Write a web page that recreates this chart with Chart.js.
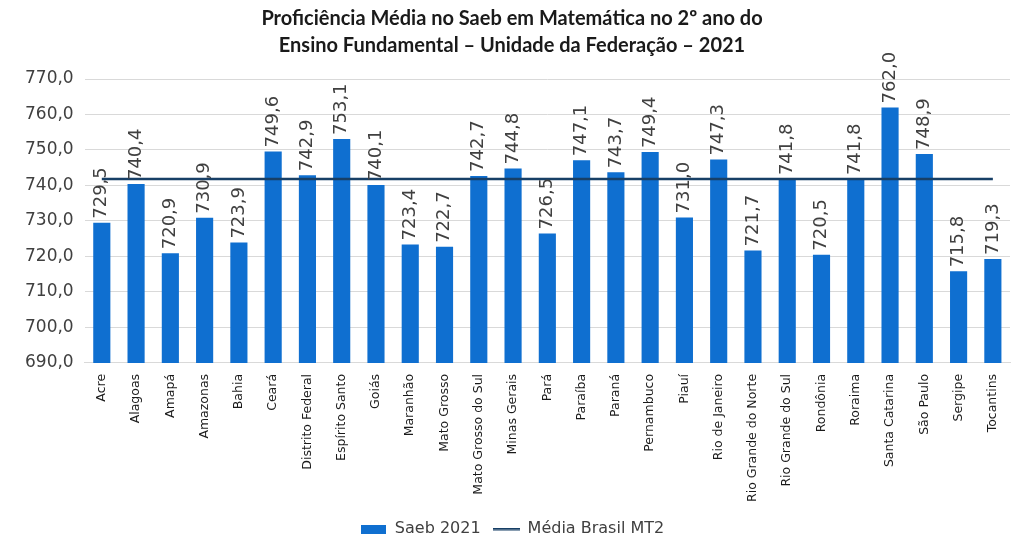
<!DOCTYPE html>
<html lang="pt-BR">
<head>
    <meta charset="UTF-8">
    <title>Proficiência Média no Saeb em Matemática - 2º ano EF - 2021</title>
    <script src="https://cdn.jsdelivr.net/npm/chart.js"></script>
    <style>
        html, body { margin: 0; padding: 0; background: #fff; }
        #wrap { width: 1024px; height: 539px; }
    </style>
</head>
<body>
    <div id="wrap"><canvas id="chart"></canvas></div>

    <script>
        // Dados
        const estados = ['Acre', 'Alagoas', 'Amapá', 'Amazonas', 'Bahia', 'Ceará', 'Distrito Federal',
            'Espírito Santo', 'Goiás', 'Maranhão', 'Mato Grosso', 'Mato Grosso do Sul', 'Minas Gerais',
            'Pará', 'Paraíba', 'Paraná', 'Pernambuco', 'Piauí', 'Rio de Janeiro', 'Rio Grande do Norte',
            'Rio Grande do Sul', 'Rondônia', 'Roraima', 'Santa Catarina', 'São Paulo', 'Sergipe', 'Tocantins'];
        const saeb2021 = [729.5, 740.4, 720.9, 730.9, 723.9, 749.6, 742.9, 753.1, 740.1, 723.4, 722.7, 742.7,
            744.8, 726.5, 747.1, 743.7, 749.4, 731.0, 747.3, 721.7, 741.8, 720.5, 741.8, 762.0, 748.9, 715.8, 719.3];
        const mediaBrasil = 741.8;
        const mediaSerie = estados.map(() => mediaBrasil);

        const corBarra = '#0f6fd0';
        const corLinha = '#173f66';

        const fmt = v => v.toFixed(1).replace('.', ',');

        // Ícones da legenda
        function icone(w, h, draw) {
            const c = document.createElement('canvas');
            c.width = w; c.height = h;
            draw(c.getContext('2d'));
            return c;
        }
        const iconeBarra = icone(25, 9, g => { g.fillStyle = corBarra; g.fillRect(0, 0, 25, 9); });
        const iconeLinha = icone(27, 3, g => { g.fillStyle = corLinha; g.fillRect(0, 0, 27, 2.5); });

        // Rótulos de valor girados acima das barras
        const rotulos = {
            id: 'rotulos',
            afterDatasetsDraw(chart) {
                const ctx = chart.ctx;
                const meta = chart.getDatasetMeta(1);
                ctx.save();
                ctx.font = '18px "DejaVu Sans"';
                ctx.fillStyle = '#404040';
                ctx.textAlign = 'left';
                ctx.textBaseline = 'middle';
                meta.data.forEach((bar, i) => {
                    ctx.save();
                    ctx.translate(bar.x, bar.y - 4);
                    ctx.rotate(-Math.PI / 2);
                    ctx.fillText(fmt(saeb2021[i]), 0, 0);
                    ctx.restore();
                });
                ctx.restore();
            }
        };

        new Chart(document.getElementById('chart'), {
            data: {
                labels: estados,
                datasets: [
                    {
                        type: 'line',
                        label: 'Média Brasil MT2',
                        data: mediaSerie,
                        borderColor: corLinha,
                        backgroundColor: corLinha,
                        borderWidth: 2.5,
                        pointRadius: 0,
                        pointStyle: iconeLinha,
                        order: 0
                    },
                    {
                        type: 'bar',
                        label: 'Saeb 2021',
                        data: saeb2021,
                        backgroundColor: corBarra,
                        barPercentage: 0.5,
                        categoryPercentage: 1,
                        pointStyle: iconeBarra,
                        order: 1
                    }
                ]
            },
            options: {
                responsive: true,
                maintainAspectRatio: false,
                animation: false,
                layout: { padding: { left: 14, right: 14, top: 0, bottom: -8 } },
                scales: {
                    x: {
                        grid: { display: false },
                        border: { color: '#d9d9d9' },
                        ticks: {
                            minRotation: 90, maxRotation: 90, autoSkip: false,
                            color: '#1a1a1a',
                            font: { family: '"DejaVu Sans"', size: 12.5 }
                        }
                    },
                    y: {
                        min: 690, max: 770,
                        grid: { color: '#d9d9d9', drawTicks: false },
                        border: { display: false },
                        ticks: {
                            stepSize: 10,
                            padding: 11,
                            color: '#404040',
                            font: { family: '"DejaVu Sans"', size: 17 },
                            callback: v => fmt(v)
                        }
                    }
                },
                plugins: {
                    title: {
                        display: true,
                        text: ['Proficiência Média no Saeb em Matemática no 2º ano do',
                               'Ensino Fundamental – Unidade da Federação – 2021'],
                        color: '#1a1a1a',
                        font: { family: 'Lato', size: 20, weight: 'bold', lineHeight: 1.35 },
                        padding: { top: 5, bottom: 20 }
                    },
                    legend: {
                        position: 'bottom',
                        reverse: true,
                        title: { display: true, text: ' ', font: { size: 1, lineHeight: 1 }, padding: 1.5 },
                        labels: {
                            usePointStyle: true,
                            pointStyleWidth: 27,
                            color: '#404040',
                            font: { family: '"DejaVu Sans"', size: 16 },
                            padding: 12
                        }
                    },
                    tooltip: { enabled: false }
                }
            },
            plugins: [rotulos]
        });
    </script>
</body>
</html>
